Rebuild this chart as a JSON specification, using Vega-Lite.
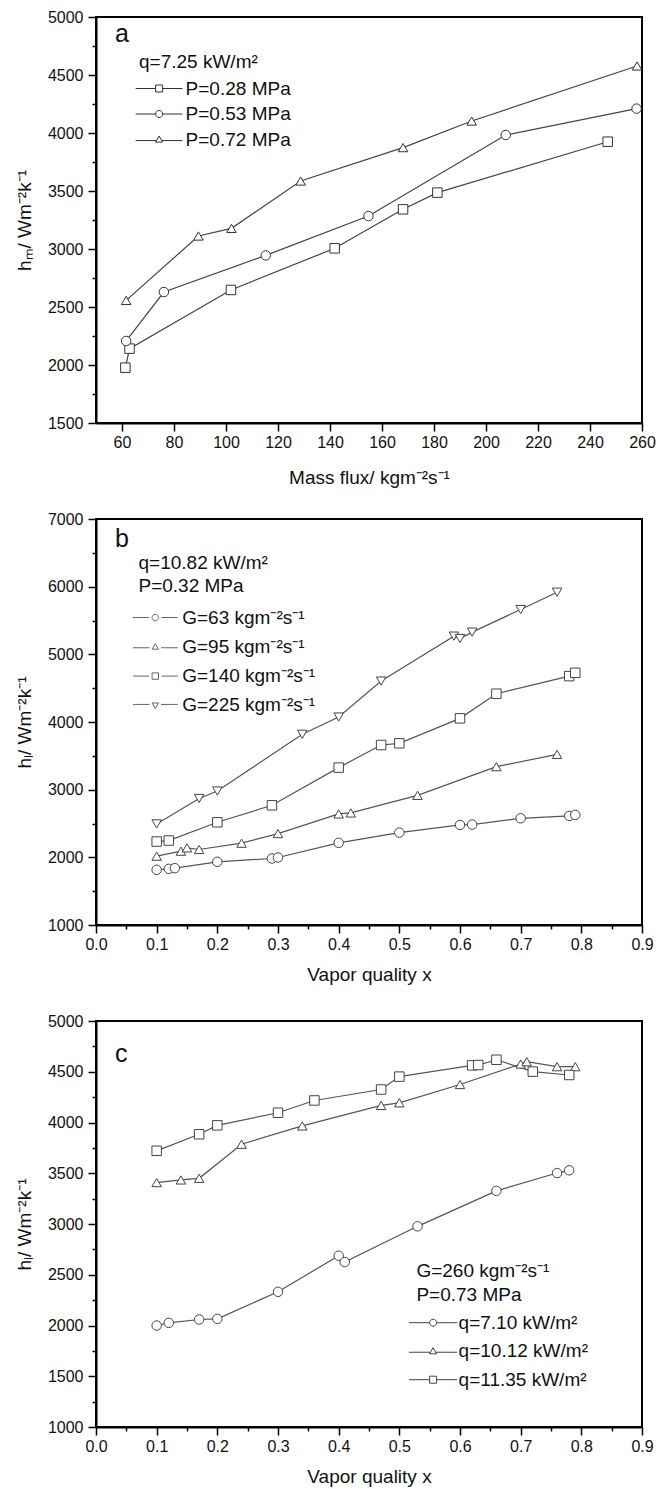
{
  "$schema": "https://vega.github.io/schema/vega-lite/v6.json",
  "background": "white",
  "padding": {"left": 14, "top": 8, "right": 0, "bottom": 0},
  "spacing": 96,
  "bounds": "flush",
  "resolve": {"scale": {"shape": "independent"}, "legend": {"shape": "independent"}},
  "config": {
    "font": "Liberation Sans",
    "view": {"stroke": "black", "strokeWidth": 2},
    "axis": {
      "grid": false,
      "domainColor": "black",
      "domainWidth": 2,
      "tickColor": "black",
      "tickWidth": 1.5,
      "tickSize": 8,
      "labelFont": "Liberation Sans",
      "labelFontSize": 16,
      "labelColor": "#111",
      "labelFlush": false,
      "labelOverlap": false,
      "titleFont": "Liberation Sans",
      "titleFontSize": 19,
      "titleFontWeight": "normal",
      "titleColor": "#111"
    },
    "axisY": {"labelPadding": 5, "titlePadding": 13},
    "axisX": {"labelPadding": 3},
    "legend": {
      "orient": "none",
      "padding": 0,
      "labelFont": "Liberation Sans",
      "labelFontSize": 19,
      "labelColor": "#111",
      "titleFont": "Liberation Sans",
      "titleFontSize": 19,
      "titleFontWeight": "normal",
      "titleColor": "#111",
      "titleBaseline": "top",
      "symbolStrokeWidth": 1
    },
    "title": {"font": "Liberation Sans", "fontSize": 25, "fontWeight": "normal", "color": "#111", "anchor": "start", "frame": "group", "baseline": "alphabetic"}
  },
  "datasets": {
    "a": [
      {"x": 61.3, "h": 1977, "s": "P=0.28 MPa"},
      {"x": 62.9, "h": 2141, "s": "P=0.28 MPa"},
      {"x": 101.9, "h": 2647, "s": "P=0.28 MPa"},
      {"x": 141.8, "h": 3006, "s": "P=0.28 MPa"},
      {"x": 168.1, "h": 3342, "s": "P=0.28 MPa"},
      {"x": 181.3, "h": 3486, "s": "P=0.28 MPa"},
      {"x": 246.8, "h": 3925, "s": "P=0.28 MPa"},
      {"x": 61.6, "h": 2207, "s": "P=0.53 MPa"},
      {"x": 76.1, "h": 2629, "s": "P=0.53 MPa"},
      {"x": 115.3, "h": 2945, "s": "P=0.53 MPa"},
      {"x": 154.8, "h": 3284, "s": "P=0.53 MPa"},
      {"x": 207.6, "h": 3983, "s": "P=0.53 MPa"},
      {"x": 257.9, "h": 4210, "s": "P=0.53 MPa"},
      {"x": 61.6, "h": 2557, "s": "P=0.72 MPa"},
      {"x": 89.4, "h": 3112, "s": "P=0.72 MPa"},
      {"x": 102.1, "h": 3178, "s": "P=0.72 MPa"},
      {"x": 128.7, "h": 3586, "s": "P=0.72 MPa"},
      {"x": 168.1, "h": 3874, "s": "P=0.72 MPa"},
      {"x": 194.5, "h": 4103, "s": "P=0.72 MPa"},
      {"x": 258.1, "h": 4578, "s": "P=0.72 MPa"}
    ],
    "b": [
      {"x": 0.1, "h": 1816, "s": "G=63 kgm⁻²s⁻¹"},
      {"x": 0.12, "h": 1830, "s": "G=63 kgm⁻²s⁻¹"},
      {"x": 0.13, "h": 1840, "s": "G=63 kgm⁻²s⁻¹"},
      {"x": 0.2, "h": 1934, "s": "G=63 kgm⁻²s⁻¹"},
      {"x": 0.29, "h": 1983, "s": "G=63 kgm⁻²s⁻¹"},
      {"x": 0.3, "h": 1998, "s": "G=63 kgm⁻²s⁻¹"},
      {"x": 0.4, "h": 2214, "s": "G=63 kgm⁻²s⁻¹"},
      {"x": 0.5, "h": 2366, "s": "G=63 kgm⁻²s⁻¹"},
      {"x": 0.6, "h": 2479, "s": "G=63 kgm⁻²s⁻¹"},
      {"x": 0.62, "h": 2484, "s": "G=63 kgm⁻²s⁻¹"},
      {"x": 0.7, "h": 2577, "s": "G=63 kgm⁻²s⁻¹"},
      {"x": 0.78, "h": 2612, "s": "G=63 kgm⁻²s⁻¹"},
      {"x": 0.79, "h": 2627, "s": "G=63 kgm⁻²s⁻¹"},
      {"x": 0.1, "h": 2017, "s": "G=95 kgm⁻²s⁻¹"},
      {"x": 0.14, "h": 2091, "s": "G=95 kgm⁻²s⁻¹"},
      {"x": 0.15, "h": 2140, "s": "G=95 kgm⁻²s⁻¹"},
      {"x": 0.17, "h": 2116, "s": "G=95 kgm⁻²s⁻¹"},
      {"x": 0.24, "h": 2209, "s": "G=95 kgm⁻²s⁻¹"},
      {"x": 0.3, "h": 2351, "s": "G=95 kgm⁻²s⁻¹"},
      {"x": 0.4, "h": 2641, "s": "G=95 kgm⁻²s⁻¹"},
      {"x": 0.42, "h": 2656, "s": "G=95 kgm⁻²s⁻¹"},
      {"x": 0.53, "h": 2916, "s": "G=95 kgm⁻²s⁻¹"},
      {"x": 0.66, "h": 3340, "s": "G=95 kgm⁻²s⁻¹"},
      {"x": 0.76, "h": 3522, "s": "G=95 kgm⁻²s⁻¹"},
      {"x": 0.1, "h": 2233, "s": "G=140 kgm⁻²s⁻¹"},
      {"x": 0.12, "h": 2248, "s": "G=140 kgm⁻²s⁻¹"},
      {"x": 0.2, "h": 2518, "s": "G=140 kgm⁻²s⁻¹"},
      {"x": 0.29, "h": 2769, "s": "G=140 kgm⁻²s⁻¹"},
      {"x": 0.4, "h": 3326, "s": "G=140 kgm⁻²s⁻¹"},
      {"x": 0.47, "h": 3660, "s": "G=140 kgm⁻²s⁻¹"},
      {"x": 0.5, "h": 3685, "s": "G=140 kgm⁻²s⁻¹"},
      {"x": 0.6, "h": 4054, "s": "G=140 kgm⁻²s⁻¹"},
      {"x": 0.66, "h": 4418, "s": "G=140 kgm⁻²s⁻¹"},
      {"x": 0.78, "h": 4678, "s": "G=140 kgm⁻²s⁻¹"},
      {"x": 0.79, "h": 4727, "s": "G=140 kgm⁻²s⁻¹"},
      {"x": 0.1, "h": 2494, "s": "G=225 kgm⁻²s⁻¹"},
      {"x": 0.17, "h": 2870, "s": "G=225 kgm⁻²s⁻¹"},
      {"x": 0.2, "h": 2980, "s": "G=225 kgm⁻²s⁻¹"},
      {"x": 0.34, "h": 3818, "s": "G=225 kgm⁻²s⁻¹"},
      {"x": 0.4, "h": 4073, "s": "G=225 kgm⁻²s⁻¹"},
      {"x": 0.47, "h": 4605, "s": "G=225 kgm⁻²s⁻¹"},
      {"x": 0.59, "h": 5269, "s": "G=225 kgm⁻²s⁻¹"},
      {"x": 0.6, "h": 5234, "s": "G=225 kgm⁻²s⁻¹"},
      {"x": 0.62, "h": 5328, "s": "G=225 kgm⁻²s⁻¹"},
      {"x": 0.7, "h": 5662, "s": "G=225 kgm⁻²s⁻¹"},
      {"x": 0.76, "h": 5918, "s": "G=225 kgm⁻²s⁻¹"}
    ],
    "c": [
      {"x": 0.1, "h": 2000, "s": "q=7.10 kW/m²"},
      {"x": 0.12, "h": 2026, "s": "q=7.10 kW/m²"},
      {"x": 0.17, "h": 2059, "s": "q=7.10 kW/m²"},
      {"x": 0.2, "h": 2065, "s": "q=7.10 kW/m²"},
      {"x": 0.3, "h": 2332, "s": "q=7.10 kW/m²"},
      {"x": 0.4, "h": 2687, "s": "q=7.10 kW/m²"},
      {"x": 0.41, "h": 2625, "s": "q=7.10 kW/m²"},
      {"x": 0.53, "h": 2977, "s": "q=7.10 kW/m²"},
      {"x": 0.66, "h": 3326, "s": "q=7.10 kW/m²"},
      {"x": 0.76, "h": 3502, "s": "q=7.10 kW/m²"},
      {"x": 0.78, "h": 3529, "s": "q=7.10 kW/m²"},
      {"x": 0.1, "h": 3408, "s": "q=10.12 kW/m²"},
      {"x": 0.14, "h": 3434, "s": "q=10.12 kW/m²"},
      {"x": 0.17, "h": 3450, "s": "q=10.12 kW/m²"},
      {"x": 0.24, "h": 3786, "s": "q=10.12 kW/m²"},
      {"x": 0.34, "h": 3966, "s": "q=10.12 kW/m²"},
      {"x": 0.47, "h": 4168, "s": "q=10.12 kW/m²"},
      {"x": 0.5, "h": 4194, "s": "q=10.12 kW/m²"},
      {"x": 0.6, "h": 4374, "s": "q=10.12 kW/m²"},
      {"x": 0.7, "h": 4576, "s": "q=10.12 kW/m²"},
      {"x": 0.71, "h": 4599, "s": "q=10.12 kW/m²"},
      {"x": 0.76, "h": 4550, "s": "q=10.12 kW/m²"},
      {"x": 0.79, "h": 4550, "s": "q=10.12 kW/m²"},
      {"x": 0.1, "h": 3721, "s": "q=11.35 kW/m²"},
      {"x": 0.17, "h": 3884, "s": "q=11.35 kW/m²"},
      {"x": 0.2, "h": 3972, "s": "q=11.35 kW/m²"},
      {"x": 0.3, "h": 4096, "s": "q=11.35 kW/m²"},
      {"x": 0.36, "h": 4217, "s": "q=11.35 kW/m²"},
      {"x": 0.47, "h": 4325, "s": "q=11.35 kW/m²"},
      {"x": 0.5, "h": 4452, "s": "q=11.35 kW/m²"},
      {"x": 0.62, "h": 4563, "s": "q=11.35 kW/m²"},
      {"x": 0.63, "h": 4566, "s": "q=11.35 kW/m²"},
      {"x": 0.66, "h": 4618, "s": "q=11.35 kW/m²"},
      {"x": 0.72, "h": 4501, "s": "q=11.35 kW/m²"},
      {"x": 0.78, "h": 4468, "s": "q=11.35 kW/m²"}
    ]
  },
  "vconcat": [
    {
      "width": 546,
      "height": 406,
      "title": {"text": "a", "offset": -38, "dx": 19},
      "data": {"name": "a"},
      "resolve": {"scale": {"shape": "independent"}, "legend": {"shape": "independent"}},
      "encoding": {
        "x": {"field": "x", "type": "quantitative", "scale": {"domain": [50, 260], "nice": false, "zero": false},
              "axis": {"title": "Mass flux/ kgm⁻²s⁻¹", "values": [60, 80, 100, 120, 140, 160, 180, 200, 220, 240, 260], "format": "d", "titlePadding": 18}},
        "y": {"field": "h", "type": "quantitative", "scale": {"domain": [1500, 5000], "nice": false, "zero": false},
              "axis": {"title": "hₘ/ Wm⁻²k⁻¹", "format": "d",
                       "values": [1500, 1750, 2000, 2250, 2500, 2750, 3000, 3250, 3500, 3750, 4000, 4250, 4500, 4750, 5000],
                       "labelExpr": "datum.value % 500 == 0 ? datum.label : ''",
                       "tickSize": {"condition": {"test": "datum.value % 500 == 0", "value": 8}, "value": 4}}}
      },
      "layer": [
        {"mark": {"type": "line", "color": "#444", "strokeWidth": 1.2}, "encoding": {"detail": {"field": "s"}}},
        {"mark": {"type": "point", "fill": "white", "fillOpacity": 1, "stroke": "#333", "strokeWidth": 1, "size": 90, "opacity": 1},
         "encoding": {"shape": {"field": "s", "type": "nominal", "legend": null,
           "scale": {"domain": ["P=0.28 MPa", "P=0.53 MPa", "P=0.72 MPa"], "range": ["square", "circle", "triangle-up"]}}}},
        {"transform": [{"filter": "datum.h < 0"}],
         "mark": {"type": "point", "fill": "white", "fillOpacity": 1, "stroke": "#333", "strokeWidth": 1, "size": 49, "opacity": 1},
         "encoding": {"shape": {"field": "s", "type": "nominal",
           "scale": {"domain": ["P=0.28 MPa", "P=0.53 MPa", "P=0.72 MPa"],
                     "range": ["M-6.7,0H-1M1,0H6.7M-1,-1H1V1H-1Z", "M-6.7,0H-1M1,0H6.7M1,0A1,1,0,1,1,-1,0A1,1,0,1,1,1,0Z", "M-6.7,0.3H-0.74M0.74,0.3H6.7M0,-1L1,0.75L-1,0.75Z"]},
           "legend": {"title": "q=7.25 kW/m²", "legendX": 43, "legendY": 36, "symbolSize": 49, "symbolOffset": 10.6, "labelOffset": 17, "rowPadding": 5.5, "titlePadding": 7}}}}
      ]
    },
    {
      "width": 546,
      "height": 406,
      "title": {"text": "b", "offset": -41, "dx": 19},
      "data": {"name": "b"},
      "resolve": {"scale": {"shape": "independent"}, "legend": {"shape": "independent"}},
      "encoding": {
        "x": {"field": "x", "type": "quantitative", "scale": {"domain": [0, 0.9], "nice": false, "zero": false},
              "axis": {"title": "Vapor quality x", "format": ".1f", "titlePadding": 13,
                       "values": [0, 0.05, 0.1, 0.15, 0.2, 0.25, 0.3, 0.35, 0.4, 0.45, 0.5, 0.55, 0.6, 0.65, 0.7, 0.75, 0.8, 0.85, 0.9],
                       "labelExpr": "round(datum.value * 100) % 10 == 0 ? datum.label : ''",
                       "tickSize": {"condition": {"test": "round(datum.value * 100) % 10 == 0", "value": 8}, "value": 4}}},
        "y": {"field": "h", "type": "quantitative", "scale": {"domain": [1000, 7000], "nice": false, "zero": false},
              "axis": {"title": "hₗ/ Wm⁻²k⁻¹", "format": "d",
                       "values": [1000, 1500, 2000, 2500, 3000, 3500, 4000, 4500, 5000, 5500, 6000, 6500, 7000],
                       "labelExpr": "datum.value % 1000 == 0 ? datum.label : ''",
                       "tickSize": {"condition": {"test": "datum.value % 1000 == 0", "value": 8}, "value": 4}}}
      },
      "layer": [
        {"mark": {"type": "line", "color": "#555", "strokeWidth": 1.2}, "encoding": {"detail": {"field": "s"}}},
        {"mark": {"type": "point", "fill": "white", "fillOpacity": 1, "stroke": "#444", "strokeWidth": 1, "size": 90, "opacity": 1},
         "encoding": {"shape": {"field": "s", "type": "nominal", "legend": null,
           "scale": {"domain": ["G=63 kgm⁻²s⁻¹", "G=95 kgm⁻²s⁻¹", "G=140 kgm⁻²s⁻¹", "G=225 kgm⁻²s⁻¹"], "range": ["circle", "triangle-up", "square", "triangle-down"]}}}},
        {"transform": [{"filter": "datum.h < 0"}],
         "mark": {"type": "point", "fill": "white", "fillOpacity": 1, "stroke": "#666", "strokeWidth": 1, "size": 41, "opacity": 1},
         "encoding": {"shape": {"field": "s", "type": "nominal",
           "scale": {"domain": ["G=63 kgm⁻²s⁻¹", "G=95 kgm⁻²s⁻¹", "G=140 kgm⁻²s⁻¹", "G=225 kgm⁻²s⁻¹"],
                     "range": ["M-7,0H-1.9M1.9,0H7M1,0A1,1,0,1,1,-1,0A1,1,0,1,1,1,0Z", "M-7,0.3H-1.8M1.8,0.3H7M0,-1L1,0.75L-1,0.75Z", "M-7,0H-1.9M1.9,0H7M-1,-1H1V1H-1Z", "M-7,-0.3H-1.8M1.8,-0.3H7M0,1L1,-0.75L-1,-0.75Z"]},
           "legend": {"title": ["q=10.82 kW/m²", "P=0.32 MPa"], "titleLineHeight": 23, "legendX": 42.5, "legendY": 35, "symbolSize": 41, "symbolOffset": 7.3, "labelOffset": 17.4, "rowPadding": 9.3, "titlePadding": 12}}}}
      ]
    },
    {
      "width": 546,
      "height": 406,
      "title": {"text": "c", "offset": -54, "dx": 19},
      "data": {"name": "c"},
      "resolve": {"scale": {"shape": "independent"}, "legend": {"shape": "independent"}},
      "encoding": {
        "x": {"field": "x", "type": "quantitative", "scale": {"domain": [0, 0.9], "nice": false, "zero": false},
              "axis": {"title": "Vapor quality x", "format": ".1f", "titlePadding": 13,
                       "values": [0, 0.05, 0.1, 0.15, 0.2, 0.25, 0.3, 0.35, 0.4, 0.45, 0.5, 0.55, 0.6, 0.65, 0.7, 0.75, 0.8, 0.85, 0.9],
                       "labelExpr": "round(datum.value * 100) % 10 == 0 ? datum.label : ''",
                       "tickSize": {"condition": {"test": "round(datum.value * 100) % 10 == 0", "value": 8}, "value": 4}}},
        "y": {"field": "h", "type": "quantitative", "scale": {"domain": [1000, 5000], "nice": false, "zero": false},
              "axis": {"title": "hₗ/ Wm⁻²k⁻¹", "format": "d",
                       "values": [1000, 1250, 1500, 1750, 2000, 2250, 2500, 2750, 3000, 3250, 3500, 3750, 4000, 4250, 4500, 4750, 5000],
                       "labelExpr": "datum.value % 500 == 0 ? datum.label : ''",
                       "tickSize": {"condition": {"test": "datum.value % 500 == 0", "value": 8}, "value": 4}}}
      },
      "layer": [
        {"mark": {"type": "line", "color": "#555", "strokeWidth": 1.2}, "encoding": {"detail": {"field": "s"}}},
        {"mark": {"type": "point", "fill": "white", "fillOpacity": 1, "stroke": "#444", "strokeWidth": 1, "size": 90, "opacity": 1},
         "encoding": {"shape": {"field": "s", "type": "nominal", "legend": null,
           "scale": {"domain": ["q=7.10 kW/m²", "q=10.12 kW/m²", "q=11.35 kW/m²"], "range": ["circle", "triangle-up", "square"]}}}},
        {"transform": [{"filter": "datum.h < 0"}],
         "mark": {"type": "point", "fill": "white", "fillOpacity": 1, "stroke": "#444", "strokeWidth": 1, "size": 49, "opacity": 1},
         "encoding": {"shape": {"field": "s", "type": "nominal",
           "scale": {"domain": ["q=7.10 kW/m²", "q=10.12 kW/m²", "q=11.35 kW/m²"],
                     "range": ["M-6.9,0H-1M1,0H6.9M1,0A1,1,0,1,1,-1,0A1,1,0,1,1,1,0Z", "M-6.9,0.3H-0.74M0.74,0.3H6.9M0,-1L1,0.75L-1,0.75Z", "M-6.9,0H-1M1,0H6.9M-1,-1H1V1H-1Z"]},
           "legend": {"title": ["G=260 kgm⁻²s⁻¹", "P=0.73 MPa"], "titleLineHeight": 24, "legendX": 320.4, "legendY": 240.5, "symbolSize": 49, "symbolOffset": 7.2, "labelOffset": 16, "rowPadding": 8.5, "titlePadding": 8.7}}}}
      ]
    }
  ]
}
